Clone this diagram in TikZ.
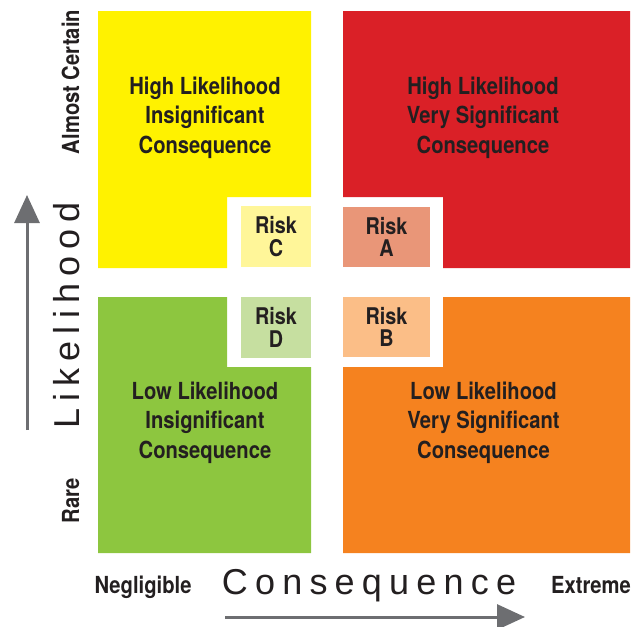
\documentclass[tikz,border=0pt]{standalone}
\usepackage{fontspec}
\usepackage{tikz}
\usetikzlibrary{positioning}
\usetikzlibrary{arrows.meta}

\newfontfamily\condfont[FakeStretch=0.86]{TeX Gyre Heros}
\newfontfamily\thinfont[LetterSpace=20]{Liberation Sans}

\definecolor{hiyellow}{RGB}{255,242,0}
\definecolor{hired}{RGB}{218,32,39}
\definecolor{logreen}{RGB}{141,198,63}
\definecolor{loorange}{RGB}{245,130,31}
\definecolor{riskcfill}{RGB}{255,246,153}
\definecolor{riskafill}{RGB}{233,150,120}
\definecolor{riskdfill}{RGB}{198,223,160}
\definecolor{riskbfill}{RGB}{251,190,135}
\definecolor{inkdark}{RGB}{35,31,32}
\definecolor{arrowgray}{RGB}{109,110,113}

\begin{document}
\begin{tikzpicture}[x=1pt, y=-1pt,
    quadtext/.style={text=inkdark, align=center, inner sep=0pt, font=\condfont\bfseries\fontsize{23.5}{29.5}\selectfont},
    riskbox/.style={text=inkdark, align=center, inner sep=0pt, font=\condfont\bfseries\fontsize{23}{22.5}\selectfont},
    scalelabel/.style={text=inkdark, inner sep=0pt, anchor=base, font=\condfont\bfseries\fontsize{23.5}{28}\selectfont},
    axislabel/.style={text=inkdark, inner sep=0pt, anchor=base, font=\thinfont\fontsize{36}{40}\selectfont},
    axisarrow/.style={draw=arrowgray, line width=3pt, -{Triangle[length=28pt,width=25pt]}}]
        \useasboundingbox (0,0) rectangle (633,627);

        % high likelihood
        \fill[hiyellow] (98,11) -- (311,11) -- (311,197) -- (227,197) -- (227,268) -- (98,268) -- cycle;
        \fill[hired] (343,11) -- (630,11) -- (630,268) -- (443,268) -- (443,197) -- (343,197) -- cycle;

        % low likelihood
        \fill[logreen] (98,297) -- (227,297) -- (227,367) -- (311,367) -- (311,553) -- (98,553) -- cycle;
        \fill[loorange] (343,367) -- (443,367) -- (443,297) -- (630,297) -- (630,553) -- (343,553) -- cycle;

        \node (hiins) at (205,117.5) [quadtext] {High Likelihood\\Insignificant\\Consequence};
        \node (hisig) at (483,117.5) [quadtext] {High Likelihood\\Very Significant\\Consequence};
        \node (loins) at (205,422.5) [quadtext] {Low Likelihood\\Insignificant\\Consequence};
        \node (losig) at (483.5,422.5) [quadtext] {Low Likelihood\\Very Significant\\Consequence};

        % risks
        \node (riskc) at (276,236.5) [riskbox, fill=riskcfill, minimum width=70pt, minimum height=61pt] {Risk\\C};
        \node (riska) at (386.5,237) [riskbox, fill=riskafill, minimum width=87pt, minimum height=60pt] {Risk\\A};
        \node (riskd) at (276,327.5) [riskbox, fill=riskdfill, minimum width=70pt, minimum height=61pt] {Risk\\D};
        \node (riskb) at (386.5,327) [riskbox, fill=riskbfill, minimum width=87pt, minimum height=60pt] {Risk\\B};

        % axes
        \node (certain) at (79,82) [scalelabel, rotate=90] {Almost Certain};
        \node (rare) at (79,500.5) [scalelabel, rotate=90] {Rare};
        \node (negligible) at (143,593) [scalelabel] {Negligible};
        \node (extreme) at (591,593) [scalelabel] {Extreme};
        \node (likelihood) at (79,315.5) [axislabel, rotate=90] {Likelihood};
        \node (consequence) at (369,594) [axislabel] {Consequence};

        \coordinate (likfrom) at (27,430);
        \coordinate (likto) at (27,195);
        \draw[axisarrow] (likfrom) -- (likto);
        \coordinate (confrom) at (225,617);
        \coordinate (conto) at (525,617);
        \draw[axisarrow] (confrom) -- (conto);
    \end{tikzpicture}
\end{document}
